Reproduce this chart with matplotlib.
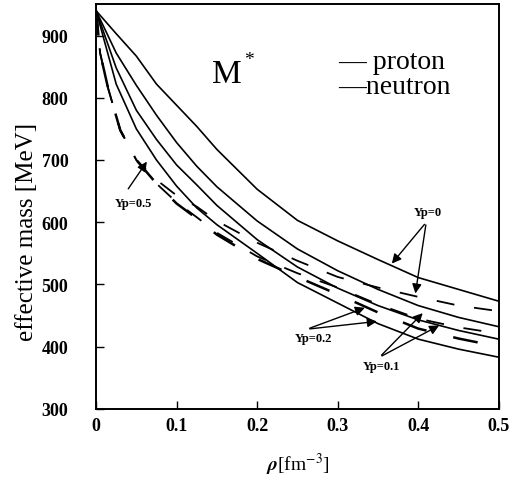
import numpy as np
import matplotlib
matplotlib.use("Agg")
import matplotlib.pyplot as plt

# === Data ===
# neutron effective mass (solid lines)
rho_n = [0, 0.025, 0.05, 0.075, 0.1, 0.125, 0.15, 0.2, 0.25, 0.3, 0.35, 0.4, 0.45, 0.5]
neutron_A = [940, 903, 867, 822, 788, 754, 717, 653, 603, 570, 540, 511, 492, 473]
neutron_B = [940, 872, 820, 772, 728, 690, 657, 602, 557, 522, 492, 466, 447, 432]
neutron_C = [940, 848, 780, 733, 692, 660, 627, 572, 528, 494, 466, 443, 426, 412]
neutron_D = [940, 822, 750, 700, 658, 623, 596, 550, 503, 470, 437, 412, 396, 383]

# proton effective mass (dashed lines)
rho_p = [0, 0.005, 0.015, 0.03, 0.05, 0.075, 0.1, 0.125, 0.15, 0.2, 0.25, 0.3, 0.35, 0.4, 0.45, 0.5]
proton_0 = [940, 872, 815, 748, 700, 668, 643, 625, 602, 567, 538, 512, 495, 480, 466, 457]
proton_1 = [940, 872, 815, 748, 700, 662, 632, 608, 583, 545, 518, 495, 468, 445, 431, 421]
proton_2 = [940, 872, 815, 748, 700, 662, 630, 606, 580, 541, 512, 484, 455, 429, 413, 400]

xticks = [0, 0.1, 0.2, 0.3, 0.4, 0.5]
xticklabels = ["0", "0.1", "0.2", "0.3", "0.4", "0.5"]
yticks = [300, 400, 500, 600, 700, 800, 900]

# === Figure ===
plt.rcParams['font.family'] = ['Liberation Serif', 'DejaVu Serif']
plt.rcParams['mathtext.fontset'] = 'stix'
fig = plt.figure(figsize=(5.25, 4.85), dpi=100)
ax = fig.add_axes([0.183, 0.155, 0.767, 0.835])

for y in [neutron_A, neutron_B, neutron_C, neutron_D]:
    ax.plot(rho_n, y, color='black', lw=1.2)
for y, lw in [(proton_0, 1.3), (proton_1, 1.3), (proton_2, 1.8)]:
    ax.plot(rho_p, y, color='black', lw=lw, linestyle=(0, (10, 11)))

ax.set_xlim(0, 0.5)
ax.set_ylim(300, 951)
ax.set_xticks(xticks)
ax.set_xticklabels(xticklabels)
ax.set_yticks(yticks)
ax.tick_params(direction='in', length=6, width=1, labelsize=13)
ax.tick_params(axis='y', pad=20)
ax.tick_params(axis='x', pad=6)
for lab in ax.get_xticklabels() + ax.get_yticklabels():
    lab.set_fontweight('bold')
for s in ax.spines.values():
    s.set_linewidth(1.4)

ax.set_ylabel("effective mass [MeV]", fontsize=18)
ax.yaxis.set_label_coords(-0.145, 0.44)
ax.set_xlabel(r"$\boldsymbol{\rho}$[fm$^{\mathrm{-3}}$]", fontsize=14, labelpad=12)

# === Labels inside ===
ax.text(0.162, 838, "M", fontsize=24, ha='center', va='center')
ax.text(0.184, 862, "*", fontsize=14, ha='left', va='center')
ax.text(0.30, 858, "— proton", fontsize=20, ha='left', va='center')
ax.text(0.30, 818, "—neutron", fontsize=20, ha='left', va='center')

arrow = dict(arrowstyle='-|>', color='black', lw=1, mutation_scale=14)
kw = dict(fontsize=9, fontweight='bold', ha='center', va='center')

ax.annotate("", xy=(0.065, 701), xytext=(0.038, 650), arrowprops=arrow)
ax.text(0.046, 631, "Yp=0.5", **kw)

ax.text(0.412, 617, "Yp=0", **kw)
ax.annotate("", xy=(0.365, 530), xytext=(0.41, 600), arrowprops=arrow)
ax.annotate("", xy=(0.396, 481), xytext=(0.41, 600), arrowprops=arrow)

ax.text(0.27, 414, "Yp=0.2", **kw)
ax.annotate("", xy=(0.337, 464), xytext=(0.262, 428), arrowprops=arrow)
ax.annotate("", xy=(0.352, 441), xytext=(0.262, 428), arrowprops=arrow)

ax.text(0.354, 369, "Yp=0.1", **kw)
ax.annotate("", xy=(0.408, 457), xytext=(0.352, 383), arrowprops=arrow)
ax.annotate("", xy=(0.429, 436), xytext=(0.352, 383), arrowprops=arrow)

fig.savefig("out.png", dpi=100)
